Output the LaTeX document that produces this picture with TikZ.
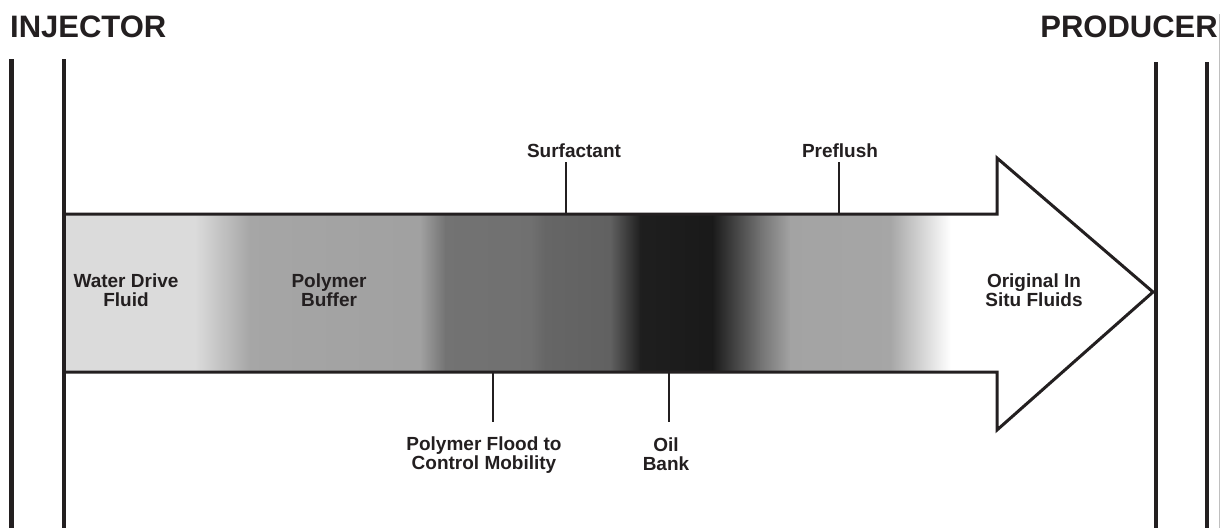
\documentclass[tikz,border=0pt]{standalone}
\usepackage{fontspec}
\setmainfont{Liberation Sans}
\definecolor{ink}{HTML}{231F20}
\tikzset{
  well/.style={draw=ink, line width=4.5pt},
  leader/.style={draw=ink, line width=2pt},
  outline/.style={draw=ink, line width=3pt, line join=miter},
  lbl/.style={font=\fontsize{19}{19}\selectfont\bfseries, text=ink, align=center, inner sep=0pt},
  title/.style={font=\fontsize{31}{31}\selectfont\bfseries, text=ink, inner sep=0pt},
}
\newcommand{\seg}[4]{\fill[left color=#3, right color=#4] (#1,214) rectangle (#2+0.8,372);}
\begin{document}
\begin{tikzpicture}[x=1pt,y=-1pt]
\useasboundingbox (0,0) rectangle (1229,528);
\fill[white] (0,0) rectangle (1229,528);
% gradient band
\seg{64}{195}{black!14}{black!14}
\seg{195}{250}{black!14}{black!35}
\seg{250}{420}{black!35}{black!37}
\seg{420}{445}{black!37}{black!55}
\seg{445}{530}{black!55}{black!56}
\seg{530}{545}{black!56}{black!60}
\seg{545}{610}{black!60}{black!62}
\seg{610}{640}{black!62}{black!88}
\seg{640}{712}{black!88}{black!90}
\seg{712}{760}{black!90}{black!55}
\seg{760}{790}{black!55}{black!36}
\seg{790}{890}{black!36}{black!35}
\seg{890}{950}{black!35}{white}
% arrow outline
\coordinate (sTL) at (64,214);
\coordinate (sTR) at (997,214);
\coordinate (hT) at (997,158);
\coordinate (tip) at (1153,292);
\coordinate (hB) at (997,430);
\coordinate (sBR) at (997,372);
\coordinate (sBL) at (64,372);
\draw[outline] (sTL) -- (sTR) -- (hT) -- (tip) -- (hB) -- (sBR) -- (sBL);
% wells
\coordinate (i1t) at (11.5,59); \coordinate (i1b) at (11.5,528);
\coordinate (i2t) at (64,59);   \coordinate (i2b) at (64,528);
\coordinate (p1t) at (1156,62); \coordinate (p1b) at (1156,528);
\coordinate (p2t) at (1207,62); \coordinate (p2b) at (1207,528);
\draw[well] (i1t) -- (i1b);
\draw[well] (i2t) -- (i2b);
\draw[well] (p1t) -- (p1b);
\draw[well] (p2t) -- (p2b);
\coordinate (e1) at (1219,14); \coordinate (e2) at (1219,528);
\draw[black!25, line width=0.8pt] (e1) -- (e2);
% titles
\node[title, anchor=base west] (inj) at (10,37) {INJECTOR};
\node[title, anchor=base east] (prod) at (1218,37) {PRODUCER};
% labels inside
\node[lbl] (water) at (126,290) {Water Drive\\Fluid};
\node[lbl] (buffer) at (329,290) {Polymer\\Buffer};
\node[lbl] (insitu) at (1034,290) {Original In\\Situ Fluids};
% top labels
\node[lbl, anchor=base] (surf) at (574,157) {Surfactant};
\node[lbl, anchor=base] (pre) at (840,157) {Preflush};
\coordinate (surfA) at (566,162); \coordinate (surfB) at (566,214);
\coordinate (preA) at (839,162);  \coordinate (preB) at (839,214);
\draw[leader] (surfA) -- (surfB);
\draw[leader] (preA) -- (preB);
% bottom labels
\node[lbl] (flood) at (484,455.5) {Polymer Flood to\\Control Mobility};
\node[lbl] (oil) at (666,454) {Oil\\Bank};
\coordinate (floodA) at (493,372); \coordinate (floodB) at (493,422);
\coordinate (oilA) at (669,372);   \coordinate (oilB) at (669,422);
\draw[leader] (floodA) -- (floodB);
\draw[leader] (oilA) -- (oilB);
\end{tikzpicture}
\end{document}
